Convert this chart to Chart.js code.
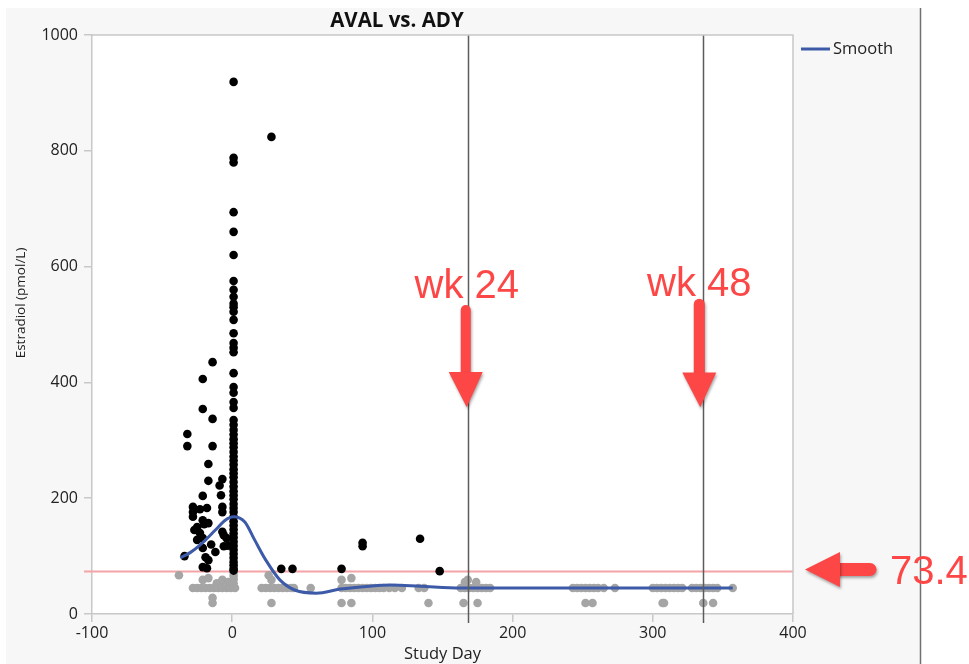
<!DOCTYPE html>
<html><head><meta charset="utf-8">
<script src="https://cdn.jsdelivr.net/npm/chart.js@4.4.1/dist/chart.umd.min.js"></script>
<style>html,body{margin:0;padding:0;background:#fff;overflow:hidden}canvas{display:block}</style>
</head><body>
<canvas id="c" width="969" height="664"></canvas>
<script>
// ---- data ----
const chartTitle = 'AVAL vs. ADY';
const xAxisTitle = 'Study Day';
const yAxisTitle = 'Estradiol (pmol/L)';
const xTickValues = [-100, 0, 100, 200, 300, 400];
const yTickValues = [0, 200, 400, 600, 800, 1000];
const threshold = 73.4;
const weekLines = [168, 336];
const weekLabels = ['wk 24', 'wk 48'];
const legendLabel = 'Smooth';

// above-threshold observations (black)
const aboveDay = [
  1,1,1,1,1,1,1,1,1,1,1,1,1,1,1,1,1,1,1,1,1,1,1,1,1,1,1,1,1,1,
  1,1,1,1,1,1,1,1,1,1,1,1,1,1,1,1,1,1,1,1,1,1,1,1,1,1,1,1,1,
  28,
  -14,-21,-21,-14,-32,-32,-14,-17,-17,-7,-9,-21,-8,-28,-28,-28,-23,-18,-21,-17,-20,
  -7,-7,-7,-6,-4,-27,-25,-21,-34,-21,-19,-17,-21,-18,-6,-3,-25,-23,-15,-12,
  35,43,78,93,93,134,148
];
const aboveVal = [
  919,788,780,694,660,620,575,560,548,536,530,522,508,485,468,460,452,416,392,382,366,356,335,327,318,310,302,295,288,280,
  272,265,258,250,243,236,228,220,212,205,198,190,183,176,168,160,153,146,139,132,125,118,111,104,97,90,84,78,75,
  824,
  435,406,354,337,311,290,290,259,230,233,222,204,205,185,176,168,181,183,162,157,155,
  185,176,142,136,131,145,128,131,100,114,98,93,81,79,117,118,150,140,120,107,
  78,78,78,123,117,130,74
];

// below-threshold observations (grey)
const belowDay = [
  -38,-21,-17,-14,-14,-11,-7,-3,
  -28,-25,-22,-19,-16,-13,-10,-7,-4,-1,2,
  1,1,1,1,
  26,28,28,21,24,27,30,33,36,39,42,44,
  56,
  78,85,78,85,78,81,84,87,90,93,96,99,102,105,108,112,116,
  121,133,137,140,165,168,166,174,175,
  163,166,169,172,175,178,181,184,
  243,246,249,252,255,258,261,265,273,
  252,257,
  300,303,306,309,312,315,318,321,
  307,308,
  328,331,334,337,340,343,346,
  336,343,
  357
];
const belowVal = [
  67,59,62,28,19,53,59,55,
  45,45,45,45,45,45,45,45,45,45,45,
  72,66,60,53,
  67,59,19,45,45,45,45,45,45,45,45,45,
  45,
  59,62,19,19,45,45,45,45,45,45,45,45,45,45,45,45,45,
  45,45,45,19,19,59,55,55,19,
  45,45,45,45,45,45,45,45,
  45,45,45,45,45,45,45,45,45,
  19,19,
  45,45,45,45,45,45,45,45,
  19,19,
  45,45,45,45,45,45,45,
  19,19,
  45
];

// smoother curve
const smoothDay = [-37,-30,-23,-12,-5,1,9,16,24,34,45,60,77,98,113,134,163,200,250,300,357];
const smoothVal = [97,106,119,145,162,168,159,128,93,59,41,36,43,48,50,48,45,45,45,45,45];

// ---- build ----
const pairs = (xs, ys) => xs.map((x, i) => ({x: x, y: ys[i]}));
const FONT = "'Open Sans', 'Noto Sans', sans-serif";
const RED = '#fd4646';
const BLUE = '#3d5aa8';

function downArrow(ctx, x, yTop, yHead, yTip, half, shaft) {
  ctx.save();
  ctx.shadowColor = 'rgba(0,0,0,0.35)';
  ctx.shadowBlur = 3; ctx.shadowOffsetX = 1; ctx.shadowOffsetY = 2;
  ctx.strokeStyle = RED; ctx.fillStyle = RED;
  ctx.lineWidth = shaft; ctx.lineCap = 'round';
  ctx.beginPath(); ctx.moveTo(x, yTop); ctx.lineTo(x, yHead + 2); ctx.stroke();
  ctx.beginPath(); ctx.moveTo(x - half, yHead); ctx.lineTo(x + half, yHead); ctx.lineTo(x + 1, yTip); ctx.closePath(); ctx.fill();
  ctx.restore();
}
function leftArrow(ctx, xTip, y, xHead, xEnd, half, shaft) {
  ctx.save();
  ctx.shadowColor = 'rgba(0,0,0,0.35)';
  ctx.shadowBlur = 3; ctx.shadowOffsetX = 1; ctx.shadowOffsetY = 2;
  ctx.strokeStyle = RED; ctx.fillStyle = RED;
  ctx.lineWidth = shaft; ctx.lineCap = 'round';
  ctx.beginPath(); ctx.moveTo(xHead - 2, y); ctx.lineTo(xEnd, y); ctx.stroke();
  ctx.beginPath(); ctx.moveTo(xHead, y - half); ctx.lineTo(xHead, y + half); ctx.lineTo(xTip, y); ctx.closePath(); ctx.fill();
  ctx.restore();
}

const decor = {
  id: 'decor',
  beforeDraw(chart) {
    const ctx = chart.ctx, a = chart.chartArea;
    ctx.save();
    ctx.fillStyle = '#ffffff'; ctx.fillRect(0, 0, chart.width, chart.height);
    ctx.fillStyle = '#f7f7f7'; ctx.fillRect(6, 8, 914, chart.height - 8);
    ctx.strokeStyle = '#707070'; ctx.lineWidth = 1.5;
    ctx.beginPath(); ctx.moveTo(920.5, 8); ctx.lineTo(920.5, chart.height); ctx.stroke();
    ctx.fillStyle = '#ffffff'; ctx.fillRect(a.left, a.top, a.right - a.left, a.bottom - a.top);
    ctx.restore();
  },
  beforeDatasetsDraw(chart) {
    const ctx = chart.ctx, a = chart.chartArea, ys = chart.scales.y;
    const yp = ys.getPixelForValue(threshold);
    ctx.save();
    ctx.strokeStyle = '#f4a3a6'; ctx.lineWidth = 2;
    ctx.beginPath(); ctx.moveTo(a.left - 8, yp); ctx.lineTo(a.right, yp); ctx.stroke();
    ctx.restore();
  },
  afterDatasetsDraw(chart) {
    const ctx = chart.ctx, a = chart.chartArea, xs = chart.scales.x;
    ctx.save();
    ctx.strokeStyle = '#5c5c5c'; ctx.lineWidth = 1.5;
    weekLines.forEach(d => {
      const xp = Math.round(xs.getPixelForValue(d)) + 0.5;
      ctx.beginPath(); ctx.moveTo(xp, a.top); ctx.lineTo(xp, a.bottom + 9); ctx.stroke();
    });
    ctx.strokeStyle = '#c8c8c8'; ctx.lineWidth = 1.5;
    ctx.beginPath(); ctx.moveTo(a.left, a.top); ctx.lineTo(a.right, a.top); ctx.lineTo(a.right, a.bottom); ctx.stroke();
    ctx.restore();
  },
  afterDraw(chart) {
    const ctx = chart.ctx, a = chart.chartArea, xs = chart.scales.x, ys = chart.scales.y;
    ctx.save();
    // title
    ctx.fillStyle = '#111'; ctx.font = "bold 20.5px " + FONT;
    ctx.textAlign = 'center'; ctx.textBaseline = 'alphabetic';
    ctx.fillText(chartTitle, 397, 27);
    // y axis title
    ctx.save();
    ctx.translate(21, 303); ctx.rotate(-Math.PI / 2);
    ctx.fillStyle = '#222'; ctx.font = "13.5px " + FONT; ctx.textAlign = 'center'; ctx.textBaseline = 'middle';
    ctx.fillText(yAxisTitle, 0, 0);
    ctx.restore();
    // legend
    ctx.strokeStyle = BLUE; ctx.lineWidth = 3;
    ctx.beginPath(); ctx.moveTo(a.right + 8, 49); ctx.lineTo(a.right + 37, 49); ctx.stroke();
    ctx.fillStyle = '#222'; ctx.font = "16.5px " + FONT; ctx.textAlign = 'left'; ctx.textBaseline = 'middle';
    ctx.fillText(legendLabel, a.right + 40, 49);
    // annotations
    ctx.font = "40px 'Liberation Sans', Arial, sans-serif"; ctx.fillStyle = RED;
    ctx.textAlign = 'center'; ctx.textBaseline = 'alphabetic';
    const yTxt = ys.getPixelForValue(545);
    weekLines.forEach((d, i) => {
      const xp = xs.getPixelForValue(d);
      ctx.fillText(weekLabels[i], xp - (i === 0 ? 1 : 4), yTxt - (i === 0 ? 0 : 2));
    });
    downArrow(ctx, xs.getPixelForValue(weekLines[0]) - 2, ys.getPixelForValue(525), ys.getPixelForValue(418), ys.getPixelForValue(357), 17, 10);
    downArrow(ctx, xs.getPixelForValue(weekLines[1]) - 4, ys.getPixelForValue(535), ys.getPixelForValue(417), ys.getPixelForValue(357), 17, 11);
    const yp = ys.getPixelForValue(threshold) - 2;
    leftArrow(ctx, a.right + 12, yp, a.right + 47, a.right + 77, 17.5, 13);
    ctx.fillStyle = RED; ctx.textAlign = 'left';
    ctx.fillText(String(threshold), 890, yp + 14);
    ctx.restore();
  }
};

new Chart(document.getElementById('c'), {
  type: 'scatter',
  data: {
    datasets: [
      { label: legendLabel, type: 'line', data: pairs(smoothDay, smoothVal), borderColor: BLUE, borderWidth: 3,
        pointRadius: 0, fill: false, cubicInterpolationMode: 'monotone', order: 0 },
      { label: 'AVAL > 73.4', data: pairs(aboveDay, aboveVal), backgroundColor: '#000', borderColor: '#000',
        pointRadius: 4.3, pointBorderWidth: 0, order: 1 },
      { label: 'AVAL <= 73.4', data: pairs(belowDay, belowVal), backgroundColor: '#a5a5a5', borderColor: '#a5a5a5',
        pointRadius: 4.3, pointBorderWidth: 0, order: 2 }
    ]
  },
  options: {
    responsive: false, animation: false, devicePixelRatio: 1,
    layout: { padding: { top: 35, right: 176, bottom: 0, left: 0 } },
    plugins: { legend: { display: false }, title: { display: false }, tooltip: { enabled: false } },
    scales: {
      x: {
        type: 'linear', min: -100, max: 400,
        afterBuildTicks: s => { s.ticks = xTickValues.map(v => ({value: v})); },
        afterFit: s => { s.height = 50; },
        grid: { drawOnChartArea: false, drawTicks: true, tickLength: 8, color: '#c8c8c8', lineWidth: 1.5 },
        border: { color: '#c8c8c8', width: 1.5 },
        ticks: { color: '#222', font: { family: FONT, size: 16 }, padding: 2, maxRotation: 0, callback: v => String(v) },
        title: { display: true, text: xAxisTitle, color: '#222', font: { family: FONT, size: 16.5 }, padding: { top: 0, bottom: 0 } }
      },
      y: {
        type: 'linear', min: 0, max: 1000,
        afterBuildTicks: s => { s.ticks = yTickValues.map(v => ({value: v})); },
        afterFit: s => { s.width = 92; },
        grid: { drawOnChartArea: false, drawTicks: true, tickLength: 8, color: '#c8c8c8', lineWidth: 1.5 },
        border: { color: '#c8c8c8', width: 1.5 },
        ticks: { color: '#222', font: { family: FONT, size: 16 }, padding: 6, callback: v => String(v) },
        title: { display: false, text: yAxisTitle }
      }
    }
  },
  plugins: [decor]
});
</script>
</body></html>
